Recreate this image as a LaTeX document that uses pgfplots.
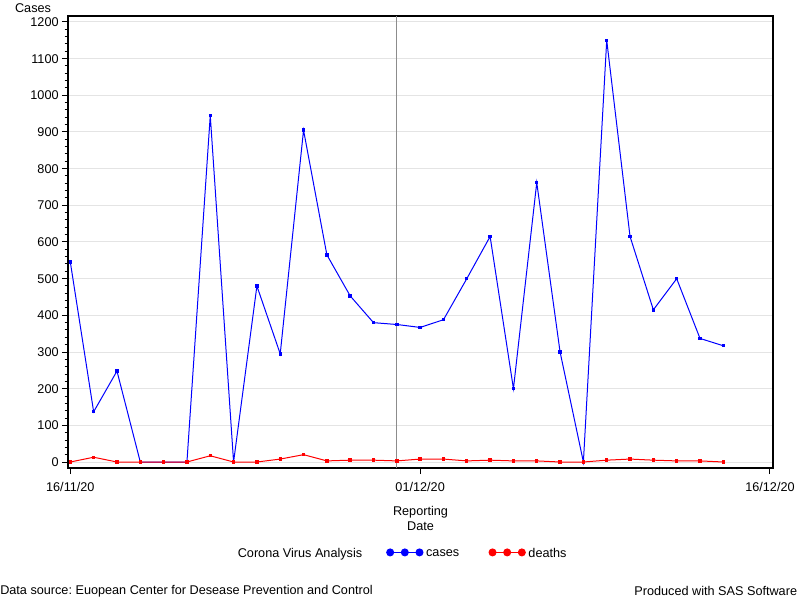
\documentclass[border=0pt]{standalone}
\usepackage{pgfplots}
\pgfplotsset{compat=1.18}
\usepackage{fontspec}
\setmainfont{Liberation Sans}
\definecolor{gridc}{RGB}{228,228,228}
\definecolor{refc}{RGB}{140,140,140}
\begin{document}
\frenchspacing
\begin{tikzpicture}[x=1pt,y=1pt]
\useasboundingbox (-51,-99) rectangle (549,351);
\begin{axis}[
  at={(0,0)}, anchor=south west,
  scale only axis, width=528.75pt, height=339pt,
  xmin=-0.1, xmax=30.13, ymin=-16.36, ymax=1216.36,
  xtick={0,15,30}, xticklabels={16/11/20,01/12/20,16/12/20},
  ytick={0,100,...,1200},
  minor y tick num=4,
  tick align=outside,
  xtick pos=left, ytick pos=left,
  major tick length=4.5pt, minor tick length=2.5pt,
  ymajorgrids, grid style={draw=gridc, line width=0.75pt},
  tick style={black, line width=0.75pt},
  axis line style={line width=0.9pt},
  font=\fontsize{9.5}{11.25}\selectfont,
  /pgf/number format/assume math mode=true,
  /pgf/number format/1000 sep={},
  yticklabel style={xshift=1pt},
  xticklabel style={yshift=-2.5pt},
  xlabel={Reporting\\Date},
  xlabel style={align=center, at={(axis description cs:0.5,-0.074)}, anchor=north},
  clip=false,
  legend style={at={(axis description cs:0.474,-0.190)}, anchor=center, draw=none,
    legend columns=-1, font=\fontsize{9.5}{10}\selectfont,
    /tikz/column 2/.style={column sep=16pt},
    /tikz/column 4/.style={column sep=20pt},
    legend cell align=left},
  legend image code/.code={%
    \draw[#1, mark=none] (0pt,1.1pt) -- (22pt,1.1pt);
    \fill[#1] (0pt,1.1pt) circle (2.6pt) (11pt,1.1pt) circle (2.6pt) (22pt,1.1pt) circle (2.6pt);
  },
]
\addplot[refc, line width=0.6pt, forget plot] coordinates {(14,-16.36) (14,1216.36)};
\addlegendimage{empty legend}
\addlegendentry{Corona Virus Analysis}
\addplot[blue, line width=0.75pt, mark=square*, mark size=0.9pt] coordinates {
(0,545) (1,137) (2,248) (3,0) (4,0) (5,0) (6,945) (7,0) (8,480) (9,295)
(10,905) (11,565) (12,453) (13,380) (14,375) (15,367) (16,388) (17,500)
(18,615) (19,200) (20,762) (21,300) (22,0) (23,1150) (24,615) (25,415)
(26,500) (27,337) (28,317)};
\addlegendentry{cases}
\addplot[red, line width=0.75pt, mark=square*, mark size=0.9pt] coordinates {
(0,0) (1,13) (2,0) (3,0) (4,0) (5,0) (6,17) (7,0) (8,0) (9,8)
(10,20) (11,3) (12,5) (13,5) (14,3) (15,8) (16,8) (17,3)
(18,5) (19,3) (20,3) (21,0) (22,0) (23,5) (24,8) (25,5)
(26,3) (27,3) (28,0)};
\addlegendentry{deaths}
\node[anchor=south, font=\fontsize{9.5}{10}\selectfont, inner sep=1pt] at (rel axis cs:-0.0496,1.004) {Cases};
\end{axis}
\node[anchor=west, inner sep=0pt, font=\fontsize{9.5}{10}\selectfont] at (-51,-92.25) {Data source: Euopean Center for Desease Prevention and Control};
\node[anchor=east, inner sep=0pt, font=\fontsize{9.5}{10}\selectfont] at (547,-92.25) {Produced with SAS Software};
\end{tikzpicture}
\end{document}
